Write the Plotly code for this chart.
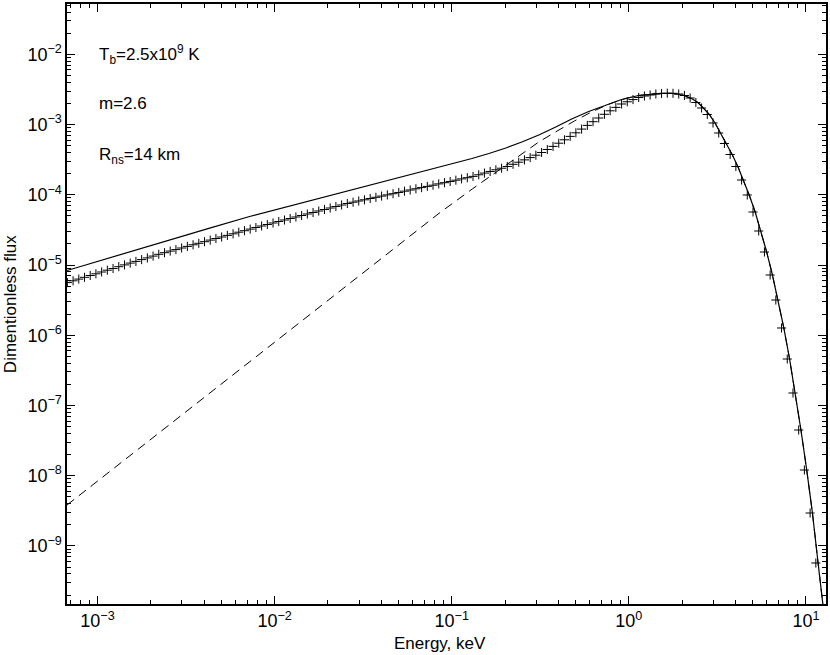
import plotly.graph_objects as go

# ---- data ----
energy_cross = [
    0.0006761, 0.0007283, 0.0007844, 0.0008449, 0.0009101, 0.0009801, 0.0010557, 0.0011371,
    0.0012248, 0.0013193, 0.0014210, 0.0015306, 0.0016487, 0.0017758, 0.0019128, 0.0020603,
    0.0022192, 0.0023904, 0.0025747, 0.0027732, 0.0029871, 0.0032175, 0.0034656, 0.0037329,
    0.0040207, 0.0043308, 0.0046648, 0.0050246, 0.0054121, 0.0058294, 0.0062790,
    0.006761, 0.007283, 0.007844, 0.008449, 0.009101, 0.009801, 0.010557, 0.011371,
    0.012248, 0.013193, 0.014210, 0.015306, 0.016487, 0.017758, 0.019128, 0.020603,
    0.022192, 0.023904, 0.025747, 0.027732, 0.029871, 0.032175, 0.034656, 0.037329,
    0.040207, 0.043308, 0.046648, 0.050246, 0.054121, 0.058294, 0.062790,
    0.06761, 0.07283, 0.07844, 0.08449, 0.09101, 0.09801, 0.10557, 0.11371,
    0.12248, 0.13193, 0.14210, 0.15306, 0.16487, 0.17758, 0.19128, 0.20603,
    0.22192, 0.23904, 0.25747, 0.27732, 0.29871, 0.32175, 0.34656, 0.37329,
    0.40207, 0.43308, 0.46648, 0.50246, 0.54121, 0.58294, 0.62790,
    0.6761, 0.7283, 0.7844, 0.8449, 0.9101, 0.9801, 1.0557, 1.1371,
    1.2248, 1.3193, 1.4210, 1.5306, 1.6487, 1.7758, 1.9128, 2.0603,
    2.2192, 2.3904, 2.5747, 2.7732, 2.9871, 3.2175, 3.4656, 3.7329,
    4.0207, 4.3308, 4.6648, 5.0246, 5.4121, 5.8294, 6.2790,
    6.761, 7.283, 7.844, 8.449, 9.101, 9.801, 10.557, 11.371,
]
flux_cross = [
    5.618e-6, 5.960e-6, 6.303e-6, 6.685e-6, 7.091e-6, 7.499e-6, 7.953e-6, 8.437e-6,
    8.923e-6, 9.465e-6, 1.004e-5, 1.065e-5, 1.126e-5, 1.195e-5, 1.263e-5, 1.340e-5,
    1.421e-5, 1.498e-5, 1.579e-5, 1.658e-5, 1.747e-5, 1.841e-5, 1.941e-5, 2.038e-5,
    2.148e-5, 2.263e-5, 2.385e-5, 2.505e-5, 2.641e-5, 2.783e-5, 2.933e-5,
    3.081e-5, 3.247e-5, 3.422e-5, 3.594e-5, 3.775e-5, 3.965e-5, 4.165e-5, 4.375e-5,
    4.596e-5, 4.828e-5, 5.070e-5, 5.326e-5, 5.593e-5, 5.876e-5, 6.171e-5, 6.482e-5,
    6.810e-5, 7.152e-5, 7.514e-5, 7.841e-5, 8.156e-5, 8.481e-5, 8.853e-5, 9.207e-5,
    9.577e-5, 9.961e-5, 1.036e-4, 1.078e-4, 1.125e-4, 1.170e-4, 1.217e-4,
    1.265e-4, 1.316e-4, 1.369e-4, 1.429e-4, 1.486e-4, 1.546e-4, 1.613e-4, 1.683e-4,
    1.751e-4, 1.827e-4, 1.926e-4, 2.036e-4, 2.146e-4, 2.268e-4, 2.389e-4, 2.527e-4,
    2.716e-4, 2.910e-4, 3.138e-4, 3.383e-4, 3.660e-4, 3.999e-4, 4.413e-4, 4.885e-4,
    5.425e-4, 6.064e-4, 6.779e-4, 7.627e-4, 8.614e-4, 9.723e-4, 1.098e-3,
    1.239e-3, 1.399e-3, 1.569e-3, 1.754e-3, 1.961e-3, 2.108e-3, 2.265e-3, 2.427e-3,
    2.548e-3, 2.634e-3, 2.721e-3, 2.766e-3, 2.794e-3, 2.785e-3, 2.721e-3, 2.591e-3,
    2.387e-3, 2.060e-3, 1.720e-3, 1.390e-3, 1.052e-3, 7.578e-4, 5.372e-4, 3.745e-4,
    2.527e-4, 1.623e-4, 9.929e-5, 5.686e-5, 3.051e-5, 1.532e-5, 7.208e-6,
    3.177e-6, 1.269e-6, 4.592e-7, 1.507e-7, 4.479e-8, 1.207e-8, 2.948e-9, 5.723e-10,
]

energy_solid = [
    6.733e-4, 1.176e-3, 2.248e-3, 4.299e-3, 7.221e-3, 1.381e-2, 2.641e-2, 5.050e-2, 9.656e-2,
    0.1301, 0.1622, 0.2021, 0.2488, 0.3102, 0.3867, 0.4757, 0.5933, 0.7393, 0.9097,
    1.134, 1.325, 1.528, 1.785, 2.059, 2.284, 2.453, 2.634, 2.847, 3.066,
    3.301, 3.554, 3.831, 4.125, 4.442, 4.782, 5.169, 5.574, 6.000, 6.469,
    6.965, 7.499, 8.085, 8.706, 9.371, 10.10, 10.88, 11.71, 12.57,
]
flux_solid = [
    8.356e-6, 1.275e-5, 2.092e-5, 3.354e-5, 4.907e-5, 7.489e-5, 1.143e-4, 1.756e-4, 2.698e-4,
    3.284e-4, 3.870e-4, 4.634e-4, 5.641e-4, 7.097e-4, 9.226e-4, 1.199e-3, 1.533e-3, 1.897e-3, 2.272e-3,
    2.591e-3, 2.721e-3, 2.785e-3, 2.766e-3, 2.591e-3, 2.310e-3, 2.060e-3, 1.720e-3, 1.390e-3, 1.052e-3,
    7.578e-4, 5.372e-4, 3.745e-4, 2.527e-4, 1.623e-4, 9.929e-5, 5.686e-5, 3.051e-5, 1.532e-5, 7.208e-6,
    3.177e-6, 1.269e-6, 4.592e-7, 1.507e-7, 4.479e-8, 1.207e-8, 2.948e-9, 5.723e-10, 1.226e-10,
]

energy_dash = [
    6.733e-4, 3.777e-3, 8.481e-2, 0.1306, 0.2014, 0.3102, 0.3852, 0.4927, 0.6189, 0.7687, 0.9097,
    1.134, 1.325, 1.528, 1.785, 2.059, 2.284, 2.453, 2.634, 2.847, 3.066,
    3.301, 3.554, 3.831, 4.125, 4.442, 4.782, 5.169, 5.574, 6.000, 6.469,
    6.965, 7.499, 8.085, 8.706, 9.371, 10.10, 10.88, 11.71, 12.57,
]
flux_dash = [
    3.832e-9, 1.159e-7, 5.450e-5, 1.209e-4, 2.629e-4, 5.641e-4, 7.830e-4, 1.123e-3, 1.520e-3, 1.940e-3, 2.265e-3,
    2.591e-3, 2.721e-3, 2.785e-3, 2.766e-3, 2.591e-3, 2.310e-3, 2.060e-3, 1.720e-3, 1.390e-3, 1.052e-3,
    7.578e-4, 5.372e-4, 3.745e-4, 2.527e-4, 1.623e-4, 9.929e-5, 5.686e-5, 3.051e-5, 1.532e-5, 7.208e-6,
    3.177e-6, 1.269e-6, 4.592e-7, 1.507e-7, 4.479e-8, 1.207e-8, 2.948e-9, 5.723e-10, 1.226e-10,
]

x_tick_vals = [1e-3, 1e-2, 1e-1, 1e0, 1e1]
x_tick_text = ["10<sup>\u22123</sup>", "10<sup>\u22122</sup>", "10<sup>\u22121</sup>",
               "10<sup>0</sup>", "10<sup>1</sup>"]
y_tick_vals = [1e-9, 1e-8, 1e-7, 1e-6, 1e-5, 1e-4, 1e-3, 1e-2]
y_tick_text = ["10<sup>\u22129</sup>", "10<sup>\u22128</sup>", "10<sup>\u22127</sup>",
               "10<sup>\u22126</sup>", "10<sup>\u22125</sup>", "10<sup>\u22124</sup>",
               "10<sup>\u22123</sup>", "10<sup>\u22122</sup>"]

x_minor = [m * 10.0 ** k for k in range(-4, 2) for m in range(2, 10)]
y_minor = [m * 10.0 ** k for k in range(-10, -1) for m in range(2, 10)]

FONT = "Liberation Sans, Arial, Helvetica, sans-serif"

fig = go.Figure()
fig.add_trace(go.Scatter(x=energy_dash, y=flux_dash, mode="lines",
                         line=dict(color="black", width=1, dash="9px,6px"),
                         showlegend=False, hoverinfo="skip"))
fig.add_trace(go.Scatter(x=energy_cross, y=flux_cross, mode="markers",
                         marker=dict(symbol="cross-thin", size=6.5, color="black",
                                     line=dict(color="black", width=1)),
                         showlegend=False, hoverinfo="skip"))
fig.add_trace(go.Scatter(x=energy_solid, y=flux_solid, mode="lines",
                         line=dict(color="black", width=1.2),
                         showlegend=False, hoverinfo="skip"))

axis_common = dict(
    type="log", showgrid=False, zeroline=False, showline=True, linecolor="black",
    linewidth=1.6, mirror="ticks", ticks="inside", ticklen=8, tickwidth=1,
    tickcolor="black", tickfont=dict(family=FONT, size=18, color="black"),
)

fig.update_layout(
    width=830, height=655,
    margin=dict(l=67, r=2, t=4, b=51),
    paper_bgcolor="white", plot_bgcolor="white",
    font=dict(family=FONT, color="black"),
    hovermode=False,
    xaxis=dict(axis_common, range=[-3.172, 1.1132], tickmode="array",
               tickvals=x_tick_vals, ticktext=x_tick_text,
               minor=dict(tickmode="array", tickvals=x_minor, ticks="inside",
                          ticklen=4, tickwidth=1, tickcolor="black")),
    yaxis=dict(axis_common, range=[-9.826, -1.284], tickmode="array",
               tickvals=y_tick_vals, ticktext=y_tick_text,
               minor=dict(tickmode="array", tickvals=y_minor, ticks="inside",
                          ticklen=4, tickwidth=1, tickcolor="black")),
    annotations=[
        dict(text="Energy, keV", xref="paper", yref="paper", x=(441 - 67) / 761,
             y=-0.065, showarrow=False, xanchor="center", yanchor="middle",
             font=dict(family=FONT, size=17)),
        dict(text="Dimentionless flux", xref="paper", yref="paper", x=(10 - 67) / 761,
             y=0.5, textangle=-90, showarrow=False, xanchor="center", yanchor="middle",
             font=dict(family=FONT, size=17)),
        dict(text="T<sub>b</sub>=2.5x10<sup>9</sup> K", xref="paper", yref="paper",
             x=(97 - 67) / 761, y=(604 - 54) / 600, showarrow=False,
             xanchor="left", yanchor="middle", font=dict(family=FONT, size=17)),
        dict(text="m=2.6", xref="paper", yref="paper",
             x=(97 - 67) / 761, y=(604 - 104) / 600, showarrow=False,
             xanchor="left", yanchor="middle", font=dict(family=FONT, size=17)),
        dict(text="R<sub>ns</sub>=14 km", xref="paper", yref="paper",
             x=(97 - 67) / 761, y=(604 - 156) / 600, showarrow=False,
             xanchor="left", yanchor="middle", font=dict(family=FONT, size=17)),
    ],
)

fig.write_html("out.html", config={"displayModeBar": False, "staticPlot": True},
               post_script="document.body.style.margin='0';document.body.style.overflow='hidden';")
